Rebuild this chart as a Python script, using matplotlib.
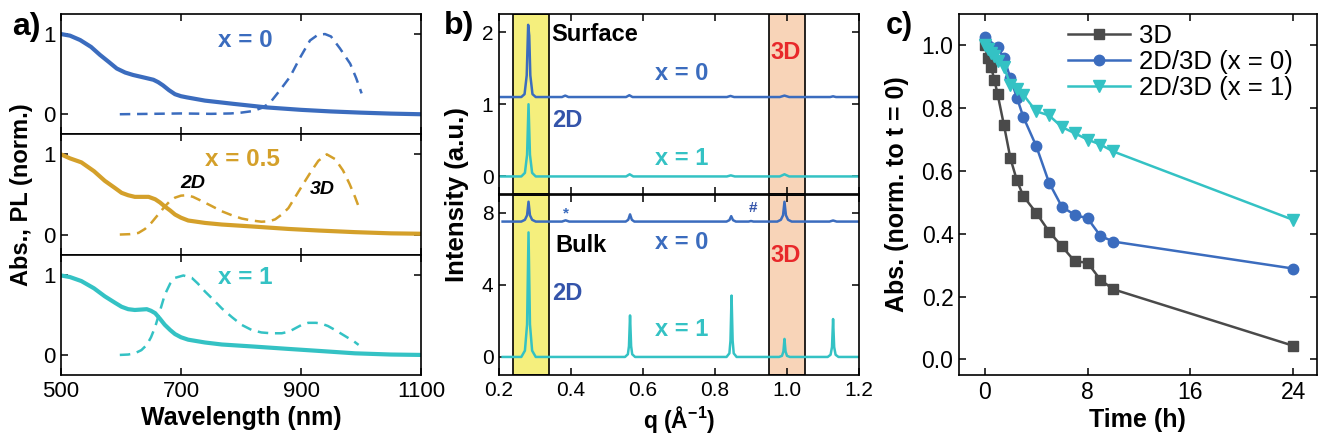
import matplotlib
matplotlib.use("Agg")
import matplotlib.pyplot as plt
from matplotlib.ticker import FormatStrFormatter

plt.rcParams['font.family'] = ['Liberation Sans', 'DejaVu Sans']
plt.rcParams['mathtext.fontset'] = 'custom'
plt.rcParams['mathtext.rm'] = 'Liberation Sans'
plt.rcParams['mathtext.bf'] = 'Liberation Sans:bold'

# ---------------- Panel a data (wavelength nm, normalized) ----------------
abs0_wl = [500, 515, 532, 550, 565, 580, 593, 607, 620, 640, 654, 662, 670, 680, 690, 700, 710, 740, 787, 843, 900, 950, 1000, 1050, 1100]
abs0_v = [1.0, 0.98, 0.925, 0.84, 0.74, 0.65, 0.57, 0.52, 0.49, 0.455, 0.43, 0.40, 0.36, 0.30, 0.25, 0.225, 0.21, 0.17, 0.13, 0.085, 0.055, 0.035, 0.02, 0.008, 0.0]
pl0_wl = [598, 650, 700, 750, 783, 800, 820, 835, 848, 865, 882, 898, 915, 928, 940, 950, 965, 982, 992, 1001]
pl0_v = [0.0, 0.005, 0.01, 0.005, 0.01, 0.02, 0.04, 0.08, 0.14, 0.30, 0.47, 0.70, 0.92, 0.99, 1.0, 0.97, 0.82, 0.63, 0.45, 0.26]

abs05_wl = [500, 515, 534, 555, 573, 590, 601, 612, 623, 635, 646, 657, 665, 673, 682, 690, 700, 712, 740, 768, 820, 879, 930, 990, 1050, 1100]
abs05_v = [1.0, 0.95, 0.90, 0.79, 0.67, 0.58, 0.52, 0.49, 0.47, 0.47, 0.47, 0.44, 0.40, 0.35, 0.30, 0.25, 0.21, 0.175, 0.145, 0.125, 0.10, 0.07, 0.05, 0.03, 0.015, 0.01]
pl05_wl = [598, 615, 629, 640, 651, 662, 673, 682, 690, 700, 709, 720, 734, 750, 768, 785, 801, 818, 834, 847, 857, 868, 879, 893, 907, 918, 929, 943, 957, 970, 981, 990, 998]
pl05_v = [0.0, 0.005, 0.02, 0.07, 0.15, 0.25, 0.35, 0.42, 0.46, 0.485, 0.49, 0.47, 0.42, 0.36, 0.29, 0.24, 0.20, 0.175, 0.16, 0.165, 0.19, 0.25, 0.33, 0.50, 0.67, 0.80, 0.92, 1.0, 0.94, 0.80, 0.63, 0.47, 0.31]

abs1_wl = [500, 515, 534, 555, 573, 590, 601, 612, 623, 633, 643, 650, 657, 665, 673, 682, 690, 700, 712, 740, 768, 820, 879, 930, 990, 1050, 1100]
abs1_v = [0.99, 0.97, 0.92, 0.83, 0.73, 0.65, 0.60, 0.57, 0.56, 0.565, 0.57, 0.55, 0.52, 0.45, 0.375, 0.31, 0.26, 0.22, 0.19, 0.155, 0.13, 0.105, 0.075, 0.05, 0.02, 0.005, 0.0]
pl1_wl = [598, 612, 623, 634, 643, 650, 657, 665, 673, 682, 690, 704, 718, 728, 740, 755, 768, 785, 801, 818, 834, 850, 868, 880, 890, 900, 912, 925, 934, 945, 957, 968, 979, 988, 996]
pl1_v = [0.0, 0.005, 0.02, 0.06, 0.125, 0.22, 0.35, 0.55, 0.75, 0.89, 0.96, 0.99, 0.96, 0.89, 0.79, 0.68, 0.58, 0.47, 0.375, 0.31, 0.28, 0.27, 0.27, 0.29, 0.33, 0.37, 0.40, 0.40, 0.39, 0.36, 0.31, 0.26, 0.21, 0.17, 0.125]

# ---------------- Panel b data (q, intensity) ----------------
surf0_q = [0.205, 0.262, 0.271, 0.277, 0.281, 0.284, 0.287, 0.293, 0.302, 0.375, 0.384, 0.393, 0.553, 0.562, 0.571, 0.833, 0.843, 0.853, 0.980, 0.993, 1.006, 1.120, 1.128, 1.136, 1.2]
surf0_I = [1.1, 1.1, 1.14, 1.4, 2.1, 1.95, 1.4, 1.14, 1.1, 1.1, 1.12, 1.1, 1.1, 1.125, 1.1, 1.1, 1.115, 1.1, 1.1, 1.12, 1.1, 1.1, 1.11, 1.1, 1.1]
surf1_q = [0.205, 0.262, 0.272, 0.278, 0.282, 0.286, 0.292, 0.302, 0.553, 0.563, 0.573, 0.833, 0.844, 0.855, 0.980, 0.993, 1.006, 1.2]
surf1_I = [0.0, 0.0, 0.05, 0.3, 1.0, 0.3, 0.05, 0.0, 0.0, 0.03, 0.0, 0.0, 0.015, 0.0, 0.0, 0.03, 0.0, 0.0]
bulk0_q = [0.21, 0.262, 0.272, 0.278, 0.282, 0.286, 0.292, 0.302, 0.375, 0.385, 0.395, 0.552, 0.559, 0.564, 0.569, 0.576, 0.832, 0.840, 0.845, 0.850, 0.858, 0.893, 0.900, 0.907, 0.973, 0.983, 0.989, 0.993, 0.997, 1.003, 1.013, 1.118, 1.128, 1.138, 1.2]
bulk0_I = [7.5, 7.5, 7.6, 7.85, 8.6, 7.85, 7.6, 7.5, 7.5, 7.57, 7.5, 7.5, 7.6, 7.9, 7.6, 7.5, 7.5, 7.58, 7.8, 7.58, 7.5, 7.5, 7.53, 7.5, 7.5, 7.6, 7.85, 8.6, 7.85, 7.6, 7.5, 7.5, 7.56, 7.5, 7.5]
bulk1_q = [0.21, 0.262, 0.272, 0.278, 0.282, 0.286, 0.292, 0.302, 0.550, 0.558, 0.561, 0.564, 0.567, 0.570, 0.578, 0.832, 0.840, 0.843, 0.846, 0.849, 0.852, 0.860, 0.978, 0.986, 0.990, 0.993, 0.996, 1.000, 1.008, 1.113, 1.121, 1.125, 1.128, 1.131, 1.135, 1.143, 1.2]
bulk1_I = [0.0, 0.0, 0.35, 1.8, 6.9, 1.8, 0.35, 0.0, 0.0, 0.15, 0.6, 2.3, 0.6, 0.15, 0.0, 0.0, 0.2, 0.9, 3.4, 0.9, 0.2, 0.0, 0.0, 0.06, 0.3, 1.0, 0.3, 0.06, 0.0, 0.0, 0.12, 0.55, 2.1, 0.55, 0.12, 0.0, 0.0]

band_2d = [0.24, 0.34]
band_3d = [0.95, 1.05]

# ---------------- Panel c data (time h, normalized abs) ----------------
t_3d = [0, 0.25, 0.5, 0.75, 1, 1.5, 2, 2.5, 3, 4, 5, 6, 7, 8, 9, 10, 24]
v_3d = [1.0, 0.96, 0.93, 0.89, 0.845, 0.745, 0.64, 0.57, 0.52, 0.467, 0.407, 0.36, 0.312, 0.308, 0.253, 0.223, 0.043]
t_x0 = [0, 1, 1.5, 2, 2.5, 3, 4, 5, 6, 7, 8, 9, 10, 24]
v_x0 = [1.027, 0.994, 0.96, 0.895, 0.834, 0.772, 0.68, 0.563, 0.486, 0.46, 0.449, 0.393, 0.375, 0.289]
t_x1 = [0, 0.25, 0.5, 0.75, 1, 1.5, 2, 2.5, 3, 4, 5, 6, 7, 8, 9, 10, 24]
v_x1 = [1.0, 0.99, 0.975, 0.965, 0.95, 0.93, 0.875, 0.86, 0.843, 0.79, 0.777, 0.74, 0.72, 0.70, 0.684, 0.662, 0.444]
legend_labels = ["3D", "2D/3D (x = 0)", "2D/3D (x = 1)"]

BLUE = '#3b6cbe'
GOLD = '#d4a02a'
CYAN = '#34c2c4'
GRAY = '#4a4a4a'
DBLUE = '#3454aa'
RED = '#e8282a'
YEL = '#f5ef7d'
ORG = '#f8d4b8'

W, H = 1319, 440
fig = plt.figure(figsize=(W / 100, H / 100), dpi=100)

def fx(px):
    return px / W

def fy(py):
    return 1 - py / H

def style(ax, size):
    ax.tick_params(direction='in', top=True, right=True, length=5, width=1.1,
                   labelsize=size, pad=4)
    for s in ax.spines.values():
        s.set_linewidth(1.2)

# ---------------- Panel a ----------------
a_left, a_right = 61, 421
a_edges = [14, 134.3, 254.6, 375]
a_sets = [
    (abs0_wl, abs0_v, pl0_wl, pl0_v, BLUE),
    (abs05_wl, abs05_v, pl05_wl, pl05_v, GOLD),
    (abs1_wl, abs1_v, pl1_wl, pl1_v, CYAN),
]
axes_a = []
for i, (awl, av, pwl, pv, col) in enumerate(a_sets):
    ax = fig.add_axes([fx(a_left), fy(a_edges[i + 1]), fx(a_right - a_left),
                       (a_edges[i + 1] - a_edges[i]) / H])
    ax.plot(awl, av, color=col, lw=3.0, solid_capstyle='round')
    ax.plot(pwl, pv, color=col, lw=1.8, ls=(0, (4.2, 2.7)))
    ax.set_xlim(500, 1100)
    ax.set_ylim(-0.25, 1.25)
    ax.set_yticks([0, 1])
    ax.set_yticklabels(['0', '1'])
    ax.set_xticks([500, 700, 900, 1100])
    style(ax, 16)
    if i < 2:
        ax.tick_params(labelbottom=False)
    axes_a.append(ax)

axes_a[0].text(807, 0.92, 'x = 0', color=BLUE, fontsize=17.5, fontweight='bold', ha='center', va='center')
axes_a[1].text(803, 0.94, 'x = 0.5', color=GOLD, fontsize=17.5, fontweight='bold', ha='center', va='center')
axes_a[1].text(720, 0.64, '2D', color='black', fontsize=14, fontweight='bold', fontstyle='italic', ha='center', va='center')
axes_a[1].text(935, 0.56, '3D', color='black', fontsize=14, fontweight='bold', fontstyle='italic', ha='center', va='center')
axes_a[2].text(807, 0.97, 'x = 1', color=CYAN, fontsize=17.5, fontweight='bold', ha='center', va='center')
axes_a[2].set_xlabel('Wavelength (nm)', fontsize=18, fontweight='bold', labelpad=3)
fig.text(fx(22), fy(194.5), 'Abs., PL (norm.)', rotation=90, fontsize=17, fontweight='bold', ha='center', va='center')
fig.text(fx(12), fy(27), 'a)', fontsize=23, fontweight='bold', ha='left', va='center')

# ---------------- Panel b ----------------
b_left, b_right = 499, 859
axb_top = fig.add_axes([fx(b_left), fy(194.5), fx(b_right - b_left), 180.5 / H])
axb_bot = fig.add_axes([fx(b_left), fy(375), fx(b_right - b_left), 180.5 / H])
for ax in (axb_top, axb_bot):
    ax.axvspan(band_2d[0], band_2d[1], facecolor=YEL, edgecolor='black', lw=1.2, zorder=0)
    ax.axvspan(band_3d[0], band_3d[1], facecolor=ORG, edgecolor='black', lw=1.2, zorder=0)
    ax.set_xlim(0.2, 1.2)
    ax.set_xticks([0.2, 0.4, 0.6, 0.8, 1.0, 1.2])
    ax.xaxis.set_major_formatter(FormatStrFormatter('%.1f'))
    style(ax, 15)

BFS = 17
axb_top.plot(surf0_q, surf0_I, color=BLUE, lw=1.8)
axb_top.plot(surf1_q, surf1_I, color=CYAN, lw=1.8)
axb_top.set_ylim(-0.25, 2.25)
axb_top.set_yticks([0, 1, 2])
axb_top.tick_params(labelbottom=False)
axb_top.text(0.345, 1.96, 'Surface', fontsize=BFS, fontweight='bold', ha='left', va='center')
axb_top.text(0.708, 1.43, 'x = 0', color=BLUE, fontsize=BFS, fontweight='bold', ha='center', va='center')
axb_top.text(0.997, 1.71, '3D', color=RED, fontsize=BFS, fontweight='bold', ha='center', va='center')
axb_top.text(0.39, 0.78, '2D', color=DBLUE, fontsize=BFS, fontweight='bold', ha='center', va='center')
axb_top.text(0.708, 0.25, 'x = 1', color=CYAN, fontsize=BFS, fontweight='bold', ha='center', va='center')

axb_bot.plot(bulk0_q, bulk0_I, color=BLUE, lw=1.8)
axb_bot.plot(bulk1_q, bulk1_I, color=CYAN, lw=1.8)
axb_bot.set_ylim(-1, 9)
axb_bot.set_yticks([0, 4, 8])
axb_bot.text(0.356, 6.2, 'Bulk', fontsize=BFS, fontweight='bold', ha='left', va='center')
axb_bot.text(0.708, 6.35, 'x = 0', color=BLUE, fontsize=BFS, fontweight='bold', ha='center', va='center')
axb_bot.text(0.997, 5.6, '3D', color=RED, fontsize=BFS, fontweight='bold', ha='center', va='center')
axb_bot.text(0.39, 3.5, '2D', color=DBLUE, fontsize=BFS, fontweight='bold', ha='center', va='center')
axb_bot.text(0.708, 1.5, 'x = 1', color=CYAN, fontsize=BFS, fontweight='bold', ha='center', va='center')
axb_bot.text(0.386, 7.95, '*', color=BLUE, fontsize=11, fontweight='bold', ha='center', va='center')
axb_bot.text(0.905, 8.25, '#', color=DBLUE, fontsize=11, fontweight='bold', ha='center', va='center')
axb_bot.set_xlabel(r'q (Å$^{\mathbf{-1}}$)', fontsize=16.5, fontweight='bold', labelpad=3)
fig.text(fx(457), fy(194.5), 'Intensity (a.u.)', rotation=90, fontsize=18.5, fontweight='bold', ha='center', va='center')
fig.text(fx(444), fy(26), 'b)', fontsize=23, fontweight='bold', ha='left', va='center')

# ---------------- Panel c ----------------
axc = fig.add_axes([fx(959), fy(375), fx(1316.5 - 959), 361 / H])
h1, = axc.plot(t_3d, v_3d, color=GRAY, lw=1.8, marker='s', ms=6.5)
h2, = axc.plot(t_x0, v_x0, color=BLUE, lw=1.8, marker='o', ms=7.5)
h3, = axc.plot(t_x1, v_x1, color=CYAN, lw=1.8, marker='v', ms=8)
axc.set_xlim(-2, 25.8)
axc.set_ylim(-0.05, 1.1)
axc.set_xticks([0, 8, 16, 24])
axc.set_yticks([0.0, 0.2, 0.4, 0.6, 0.8, 1.0])
axc.yaxis.set_major_formatter(FormatStrFormatter('%.1f'))
style(axc, 16.5)
axc.set_xlabel('Time (h)', fontsize=18, fontweight='bold', labelpad=3)
fig.text(fx(897), fy(194.5), 'Abs. (norm. to t = 0)', rotation=90, fontsize=18, fontweight='bold', ha='center', va='center')
fig.text(fx(886), fy(26), 'c)', fontsize=22, fontweight='bold', ha='left', va='center')
fig.legend([h1, h2, h3], legend_labels, loc='upper left', bbox_to_anchor=(fx(1068), fy(24)),
           bbox_transform=fig.transFigure, frameon=False, fontsize=18.5, handlelength=2.4,
           handletextpad=0.35, labelspacing=0.08, borderpad=0, borderaxespad=0)

fig.savefig('out.png', dpi=100)
